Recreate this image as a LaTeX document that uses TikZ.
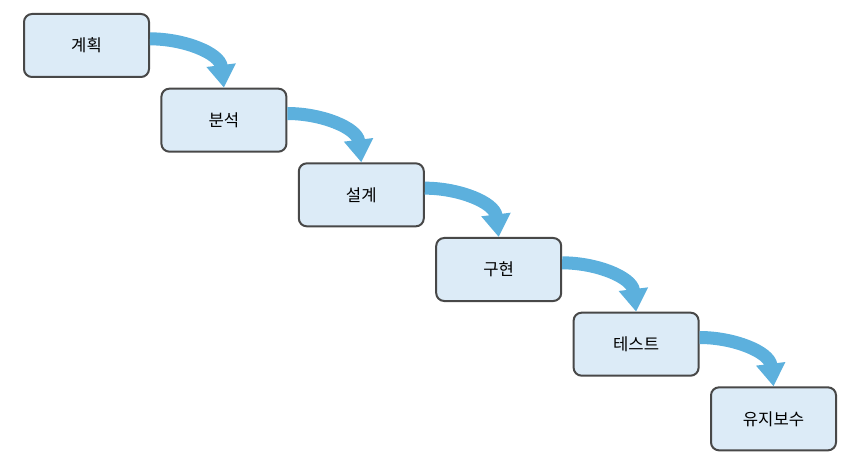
\documentclass[tikz,border=0pt]{standalone}
\usepackage{fontspec}
\newfontfamily\krfont{Noto Sans CJK KR}
\usetikzlibrary{arrows.meta, positioning}
\definecolor{boxfill}{RGB}{220,235,247}
\definecolor{boxline}{RGB}{72,72,72}
\definecolor{flowblue}{RGB}{92,176,221}
\begin{document}
\begin{tikzpicture}[node distance=7.25pt and 7.8pt,
	stepbox/.style={rectangle, rounded corners=6pt, draw=boxline, line width=1.5pt, fill=boxfill, minimum width=93.75pt, minimum height=47.25pt, font=\krfont\fontsize{12.5}{15}\selectfont},
	flow/.style={draw=flowblue, line width=9.75pt, -{Triangle[width=21pt, length=17pt]}, flowblue}]

							\useasboundingbox (0,0) rectangle (632.25pt,-342pt);

							\node[stepbox, anchor=north west] (plan) at (17.25pt,-9.75pt) {계획};
							\node[stepbox] (analysis) [below right=of plan] {분석};
							\node[stepbox] (design) [below right=of analysis] {설계};
							\node[stepbox] (build) [below right=of design] {구현};
							\node[stepbox] (test) [below right=of build] {테스트};
							\node[stepbox] (maint) [below right=of test] {유지보수};

							\draw[flow] ([yshift=5pt]plan.east) to[out=0, in=97] (analysis.north);
							\draw[flow] ([yshift=5pt]analysis.east) to[out=0, in=97] (design.north);
							\draw[flow] ([yshift=5pt]design.east) to[out=0, in=97] (build.north);
							\draw[flow] ([yshift=5pt]build.east) to[out=0, in=97] (test.north);
							\draw[flow] ([yshift=5pt]test.east) to[out=0, in=97] (maint.north);

						\end{tikzpicture}
\end{document}
